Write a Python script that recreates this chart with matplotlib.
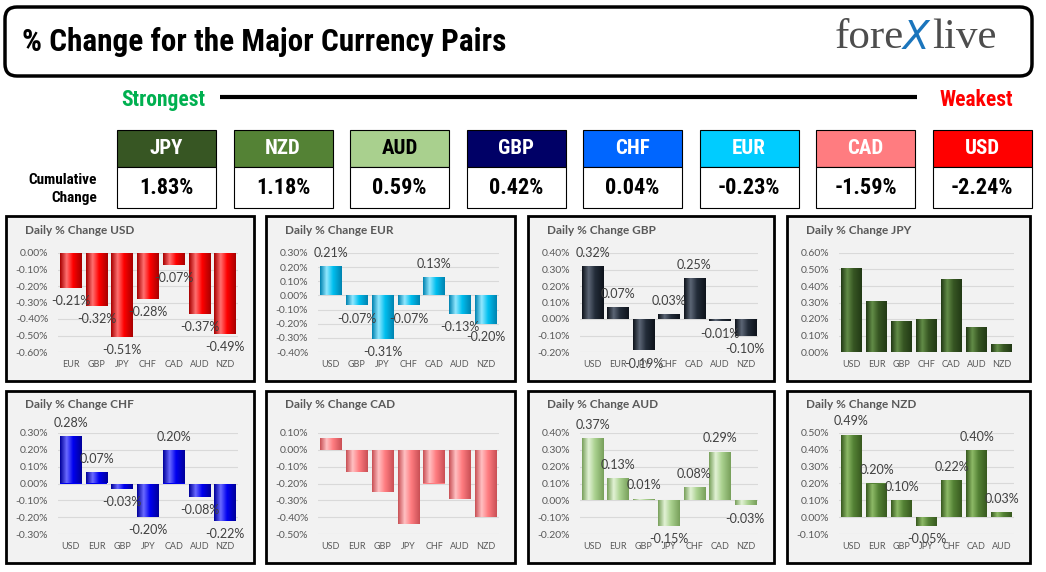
import matplotlib
matplotlib.use('Agg')
import matplotlib.pyplot as plt
import numpy as np
from matplotlib.patches import Rectangle, FancyBboxPatch
from matplotlib.colors import LinearSegmentedColormap
from matplotlib.ticker import FuncFormatter, MultipleLocator

plt.rcParams['font.family'] = ['Lato', 'DejaVu Sans']

# ---------------- data ----------------
rank_ccy = ['JPY', 'NZD', 'AUD', 'GBP', 'CHF', 'EUR', 'CAD', 'USD']
rank_chg = [1.83, 1.18, 0.59, 0.42, 0.04, -0.23, -1.59, -2.24]

usd_pairs = ['EUR', 'GBP', 'JPY', 'CHF', 'CAD', 'AUD', 'NZD']
usd_chg = [-0.21, -0.32, -0.51, -0.28, -0.07, -0.37, -0.49]

eur_pairs = ['USD', 'GBP', 'JPY', 'CHF', 'CAD', 'AUD', 'NZD']
eur_chg = [0.21, -0.07, -0.31, -0.07, 0.13, -0.13, -0.20]

gbp_pairs = ['USD', 'EUR', 'JPY', 'CHF', 'CAD', 'AUD', 'NZD']
gbp_chg = [0.32, 0.07, -0.19, 0.03, 0.25, -0.01, -0.10]

jpy_pairs = ['USD', 'EUR', 'GBP', 'CHF', 'CAD', 'AUD', 'NZD']
jpy_chg = [0.51, 0.31, 0.19, 0.20, 0.44, 0.15, 0.05]

chf_pairs = ['USD', 'EUR', 'GBP', 'JPY', 'CAD', 'AUD', 'NZD']
chf_chg = [0.28, 0.07, -0.03, -0.20, 0.20, -0.08, -0.22]

cad_pairs = ['USD', 'EUR', 'GBP', 'JPY', 'CHF', 'AUD', 'NZD']
cad_chg = [0.07, -0.13, -0.25, -0.44, -0.20, -0.29, -0.40]

aud_pairs = ['USD', 'EUR', 'GBP', 'JPY', 'CHF', 'CAD', 'NZD']
aud_chg = [0.37, 0.13, 0.01, -0.15, 0.08, 0.29, -0.03]

nzd_pairs = ['USD', 'EUR', 'GBP', 'JPY', 'CHF', 'CAD', 'AUD']
nzd_chg = [0.49, 0.20, 0.10, -0.05, 0.22, 0.40, 0.03]

# ---------------- styles ----------------
W, H = 1046, 572
# narrow bold face for the header (falls through to whichever is installed)
COND = dict(family=['Liberation Sans Narrow', 'DejaVu Sans Condensed', 'Roboto Condensed',
                    'Noto Sans', 'DejaVu Sans'],
            fontstretch='condensed', weight='black')

head_fill = {'JPY': '#375623', 'NZD': '#548235', 'AUD': '#A9D08E', 'GBP': '#000066',
             'CHF': '#0066FF', 'EUR': '#00CCFF', 'CAD': '#FF7C80', 'USD': '#FF0000'}
head_text = {'AUD': 'black'}

# dark edge, light highlight, base
bar_shade = {'USD': ('#A80000', '#FF7070', '#FF0000'),
             'EUR': ('#0083B0', '#92E8FF', '#00BFEF'),
             'GBP': ('#0E131B', '#5C6675', '#232C39'),
             'JPY': ('#223915', '#628C47', '#375623'),
             'CHF': ('#00009A', '#6A6AFF', '#0000F0'),
             'CAD': ('#C95055', '#FFC0C2', '#FF7C80'),
             'AUD': ('#78A05B', '#E2F2D5', '#A9D08E'),
             'NZD': ('#38591F', '#8DBA67', '#548235')}

fig = plt.figure(figsize=(W / 100, H / 100), dpi=100)
bg = fig.add_axes([0, 0, 1, 1])
bg.set_xlim(0, W)
bg.set_ylim(H, 0)
bg.axis('off')


def fig_rect(x0, y0, x1, y1):
    return [x0 / W, 1 - y1 / H, (x1 - x0) / W, (y1 - y0) / H]


# ---------------- header ----------------
bg.add_patch(FancyBboxPatch((5, 7), 1027, 69, boxstyle='round,pad=0,rounding_size=12',
                            fc='white', ec='black', lw=2.5))
bg.text(22, 42, '% Change for the Major Currency Pairs', fontsize=22.5, va='center',
        ha='left', color='black', **COND)

t1 = bg.text(835, 57, 'fore', family='Liberation Serif', fontsize=31, color='#4D4D4D',
             va='bottom', ha='left')
bg.annotate('X', xy=(1, 0), xycoords=t1, xytext=(-1, 0), textcoords='offset points',
            family='DejaVu Sans', fontsize=28, color='#1B75BC', va='bottom', ha='left',
            style='italic')
bg.annotate('live', xy=(1, 0), xycoords=t1, xytext=(20, 0), textcoords='offset points',
            family='Liberation Serif', fontsize=31, color='#4D4D4D', va='bottom', ha='left')

bg.text(121, 100, 'Strongest', fontsize=15.5, color='#00B050', va='center', ha='left', **COND)
bg.text(1013, 100, 'Weakest', fontsize=15.5, color='#FF0000', va='center', ha='right', **COND)
bg.plot([220, 917], [97, 97], color='black', lw=3, solid_capstyle='butt')

bg.text(97, 189, 'Cumulative\nChange', fontsize=11, ha='right', va='center',
        multialignment='right', linespacing=1.3, **COND)

for i, (ccy, chg) in enumerate(zip(rank_ccy, rank_chg)):
    x0 = 117 + i * 116.5
    bg.add_patch(Rectangle((x0, 130), 99, 37, fc=head_fill[ccy], ec='black', lw=0.8))
    bg.add_patch(Rectangle((x0, 167), 99, 41, fc='white', ec='black', lw=0.8))
    bg.text(x0 + 49.5, 149, ccy, fontsize=15, color=head_text.get(ccy, 'white'),
            ha='center', va='center', **COND)
    bg.text(x0 + 49.5, 188, '{:.2f}%'.format(chg), fontsize=16, color='black',
            ha='center', va='center', **COND)


# ---------------- daily panels ----------------
def panel(box, top_pad, ccy, pairs, vals, ylim, labels=True):
    x0, y0, x1, y1 = box
    bg.add_patch(Rectangle((x0, y0), x1 - x0, y1 - y0, fc='#F2F2F2', ec='black', lw=2))
    bg.text(x0 + 19, y0 + 14, 'Daily % Change ' + ccy, fontsize=8.5, weight='bold',
            color='#595959', ha='left', va='center')

    ax = fig.add_axes(fig_rect(x0 + 52, y0 + top_pad, x1 - 16, y1 - 29))
    ax.set_facecolor('none')
    xs = np.arange(len(pairs))
    bars = ax.bar(xs, vals, width=0.84, color=bar_shade[ccy][2], zorder=2)

    dark, light, base = bar_shade[ccy]
    cmap = LinearSegmentedColormap.from_list(
        'cyl', [(0, dark), (0.3, light), (0.6, base), (1, dark)])
    grad = np.linspace(0, 1, 64).reshape(1, -1)
    for b in bars:
        bx, by = b.get_x(), b.get_y()
        im = ax.imshow(grad, cmap=cmap, aspect='auto', zorder=3,
                       extent=(bx, bx + b.get_width(), by, by + b.get_height()))
        im.set_clip_path(b)

    if labels:
        for x, v in zip(xs, vals):
            ax.annotate('{:.2f}%'.format(v), (x, v), xytext=(0, 9.5 if v >= 0 else -9.5),
                        textcoords='offset points', ha='center', va='center',
                        fontsize=9, color='#404040', zorder=5)

    ax.set_xlim(-0.5, len(pairs) - 0.5)
    ax.set_ylim(*ylim)
    ax.yaxis.set_major_locator(MultipleLocator(0.1))
    ax.yaxis.set_major_formatter(FuncFormatter(lambda v, p: '{:.2f}%'.format(v)))
    ax.set_xticks(xs)
    ax.set_xticklabels(pairs)
    ax.tick_params(axis='y', length=0, pad=7, labelsize=7.5, labelcolor='#595959')
    ax.tick_params(axis='x', length=0, pad=6, labelsize=6.5, labelcolor='#595959')
    ax.grid(True, 'major', 'y', color='#D9D9D9', lw=0.8, zorder=0)
    ax.set_axisbelow(True)
    for s in ax.spines.values():
        s.set_visible(False)


row1 = (216, 381)
row2 = (391, 563)
cols = [(6, 254), (266, 515), (528, 774), (787, 1030)]

panel((cols[0][0], row1[0], cols[0][1], row1[1]), 37, 'USD', usd_pairs, usd_chg, (-0.6, 0.0))
panel((cols[1][0], row1[0], cols[1][1], row1[1]), 37, 'EUR', eur_pairs, eur_chg, (-0.4, 0.3))
panel((cols[2][0], row1[0], cols[2][1], row1[1]), 37, 'GBP', gbp_pairs, gbp_chg, (-0.2, 0.4))
panel((cols[3][0], row1[0], cols[3][1], row1[1]), 37, 'JPY', jpy_pairs, jpy_chg, (0.0, 0.6),
      labels=False)
panel((cols[0][0], row2[0], cols[0][1], row2[1]), 42, 'CHF', chf_pairs, chf_chg, (-0.3, 0.3))
panel((cols[1][0], row2[0], cols[1][1], row2[1]), 42, 'CAD', cad_pairs, cad_chg, (-0.5, 0.1),
      labels=False)
panel((cols[2][0], row2[0], cols[2][1], row2[1]), 42, 'AUD', aud_pairs, aud_chg, (-0.2, 0.4))
panel((cols[3][0], row2[0], cols[3][1], row2[1]), 42, 'NZD', nzd_pairs, nzd_chg, (-0.1, 0.5))

fig.savefig('out.png', dpi=100)
